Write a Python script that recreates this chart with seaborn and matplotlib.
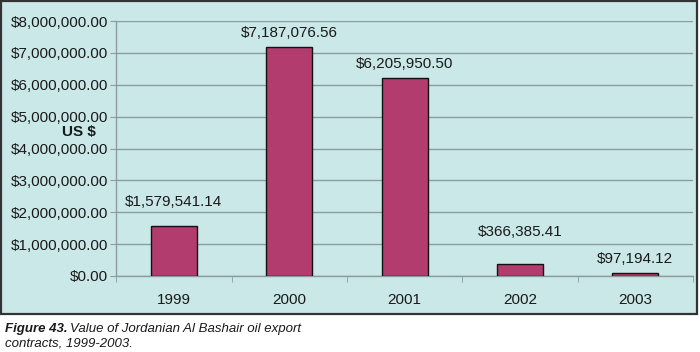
import numpy as np
import pandas as pd
import matplotlib
matplotlib.use("Agg")
import matplotlib.pyplot as plt
from matplotlib.patches import Rectangle
from matplotlib.ticker import FuncFormatter, FixedLocator
import seaborn as sns

# --- DATA ---
years = ["1999", "2000", "2001", "2002", "2003"]
values = [1579541.14, 7187076.56, 6205950.50, 366385.41, 97194.12]
value_labels = ["$1,579,541.14", "$7,187,076.56", "$6,205,950.50", "$366,385.41", "$97,194.12"]
# label centre distance above bar top (points)
label_offsets = [17, 10, 10.5, 23.5, 10]

BG = "#cae8e8"
BAR = "#b23c6e"
GRID = "#8c9c9c"
TXT = "#1a1a1a"

sns.set_style("white")
plt.rcParams["font.family"] = ["Liberation Sans", "DejaVu Sans"]

df = pd.DataFrame({"year": years, "value": values})

fig = plt.figure(figsize=(7, 3.52), dpi=100)
fig.patch.set_facecolor("white")

# outer chart box (behind the axes)
box = Rectangle((0.002, 0.108), 0.994, 0.889, transform=fig.transFigure,
                facecolor=BG, edgecolor="#333333", linewidth=1.6, zorder=-10)
fig.add_artist(box)

ax = fig.add_axes([0.166, 0.216, 0.824, 0.724])
ax.set_facecolor("none")
ax.set_zorder(1)

sns.barplot(data=df, x="year", y="value", color=BAR, width=0.4, saturation=1,
            edgecolor="#111111", linewidth=1.0, ax=ax, zorder=3)

ax.set_ylim(0, 8000000)
ax.set_xlim(-0.5, 4.5)
ax.set_yticks(np.arange(0, 8000001, 1000000))
ax.yaxis.set_major_formatter(FuncFormatter(lambda v, p: "${:,.2f}".format(v)))
ax.grid(axis="y", color=GRID, linewidth=1.0, zorder=1)
ax.set_axisbelow(True)

for s in ["top", "right"]:
    ax.spines[s].set_visible(False)
for s in ["left", "bottom"]:
    ax.spines[s].set_color(GRID)
    ax.spines[s].set_linewidth(1.0)

ax.tick_params(axis="y", which="major", length=4, color=GRID, labelsize=11,
               labelcolor=TXT, pad=2, left=True)
ax.tick_params(axis="x", which="major", length=0, labelsize=11, labelcolor=TXT, pad=12)
ax.xaxis.set_minor_locator(FixedLocator(np.arange(-0.5, 4.6, 1.0)))
ax.tick_params(axis="x", which="minor", length=4, color=GRID, bottom=True)
ax.set_xlabel("")
ax.set_ylabel("")

for i, (v, lab) in enumerate(zip(values, value_labels)):
    ax.annotate(lab, (i, v), xytext=(0, label_offsets[i]), textcoords="offset points",
                ha="center", va="center", fontsize=11, color=TXT)

fig.text(0.089, 0.625, "US $", fontsize=11, fontweight="bold", color=TXT,
         ha="left", va="center", zorder=5)

fig.text(0.007, 0.065, "Figure 43.", fontsize=9.5, fontweight="bold", style="italic",
         color=TXT, ha="left", va="center")
fig.text(0.100, 0.065, "Value of Jordanian Al Bashair oil export", fontsize=9.5,
         style="italic", color=TXT, ha="left", va="center")
fig.text(0.007, 0.025, "contracts, 1999-2003.", fontsize=9.5, style="italic",
         color=TXT, ha="left", va="center")

fig.savefig("out.png", dpi=100)
plt.close()
